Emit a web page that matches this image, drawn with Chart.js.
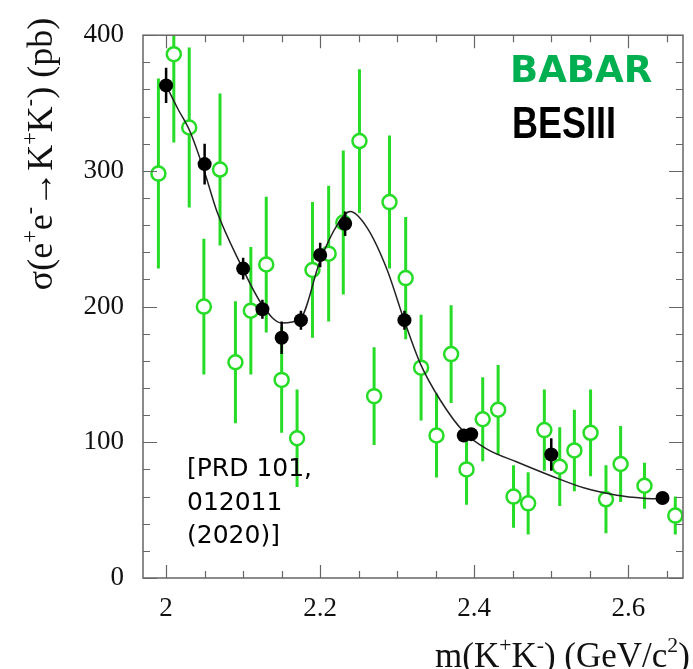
<!DOCTYPE html>
<html>
<head>
<meta charset="utf-8">
<script src="https://cdn.jsdelivr.net/npm/chart.js@4.4.1/dist/chart.umd.min.js"></script>
<style>
  html, body { margin: 0; padding: 0; background: #fff; }
  #c { display: block; }
</style>
</head>
<body>
<canvas id="c" width="693" height="669"></canvas>
<script>
// BABAR (open green circles)
const babX = [1.990, 2.010, 2.030, 2.049, 2.070, 2.090, 2.110, 2.130, 2.150, 2.170, 2.190,
              2.211, 2.230, 2.251, 2.270, 2.290, 2.311, 2.331, 2.351, 2.370, 2.390, 2.411,
              2.431, 2.451, 2.470, 2.491, 2.511, 2.530, 2.551, 2.571, 2.590, 2.621, 2.661];
const babY = [298, 386, 332, 200, 301, 159, 197, 231, 146, 103, 227,
              239, 262, 322, 134, 277, 221, 155, 105, 165, 80, 117,
              124, 60, 55, 109, 82, 94, 107, 58, 84, 68, 46];
const babErr = [70, 65, 59, 50, 56, 45, 47, 50, 39, 36, 50,
                50, 53, 53, 36, 49, 45, 39, 31, 36, 26, 31,
                33, 23, 23, 30, 29, 30, 32, 25, 28, 17, 14];

// BESIII (filled black dots)
const besX = [2.0, 2.05, 2.1, 2.125, 2.15, 2.175, 2.2, 2.2324, 2.3094, 2.3864, 2.396, 2.5, 2.6444];
const besY = [363, 305, 228, 198, 177, 190, 238, 261, 190, 105, 106, 91, 59];
const besErr = [13, 15, 8, 7, 12, 7, 9, 9, 7, 4, 4, 12, 4];

// fit curve
const fitX = [2.0, 2.015, 2.031, 2.05, 2.066, 2.096, 2.125, 2.15, 2.174, 2.2, 2.222, 2.239,
              2.261, 2.287, 2.309, 2.33, 2.356, 2.386, 2.4165, 2.4555, 2.501, 2.542, 2.585, 2.62, 2.646];
const fitY = [363, 346, 329, 299, 270, 232, 201, 188, 191, 234, 260, 270,
              258, 227, 190, 158, 131, 108, 95, 85.5, 75, 66.5, 61, 58.8, 58.3];

const xTicks = [2, 2.2, 2.4, 2.6];
const yTicks = [0, 100, 200, 300, 400];

const GREEN = '#26dc26';

const pts = (xs, ys) => xs.map((x, i) => ({ x: x, y: ys[i] }));

// error bars drawn under each dataset's markers
const errorBars = {
  id: 'errorBars',
  beforeDatasetDraw(chart, args) {
    const ds = chart.data.datasets[args.index];
    if (!ds.errs) return;
    const { ctx, chartArea: a, scales: { x, y } } = chart;
    ctx.save();
    ctx.beginPath();
    ctx.rect(a.left, a.top, a.right - a.left, a.bottom - a.top);
    ctx.clip();
    ctx.strokeStyle = ds.errColor;
    ctx.lineWidth = ds.errWidth;
    ds.data.forEach((p, i) => {
      const px = x.getPixelForValue(p.x);
      ctx.beginPath();
      ctx.moveTo(px, y.getPixelForValue(p.y - ds.errs[i]));
      ctx.lineTo(px, y.getPixelForValue(p.y + ds.errs[i]));
      ctx.stroke();
    });
    ctx.restore();
  }
};

// frame with inward ticks on all four sides
const frame = {
  id: 'frame',
  afterDatasetsDraw(chart) {
    const { ctx, chartArea: a, scales: { x, y } } = chart;
    ctx.save();
    ctx.strokeStyle = '#666';
    ctx.lineWidth = 1.5;
    ctx.strokeRect(a.left, a.top, a.right - a.left, a.bottom - a.top);
    ctx.lineWidth = 1.2;
    ctx.beginPath();
    for (let k = Math.ceil(x.min / 0.05 - 1e-6); k * 0.05 <= x.max + 1e-9; k++) {
      const v = k * 0.05;
      const len = xTicks.some(t => Math.abs(t - v) < 1e-6) ? 13 : 7;
      const px = Math.round(x.getPixelForValue(v)) + 0.5;
      ctx.moveTo(px, a.bottom); ctx.lineTo(px, a.bottom - len);
      ctx.moveTo(px, a.top); ctx.lineTo(px, a.top + len);
    }
    for (let v = 0; v <= 400; v += 20) {
      const len = yTicks.includes(v) ? 14 : 7;
      const py = Math.round(y.getPixelForValue(v)) + 0.5;
      ctx.moveTo(a.left, py); ctx.lineTo(a.left + len, py);
      ctx.moveTo(a.right, py); ctx.lineTo(a.right - len, py);
    }
    ctx.stroke();
    ctx.restore();
  }
};

function drawRich(ctx, parts, size, x, y) {
  let cx = x;
  parts.forEach(p => {
    const s = p.sup ? size * 0.62 : size;
    ctx.font = s + 'px "Liberation Serif", "DejaVu Serif", serif';
    ctx.fillText(p.t, cx, p.sup ? y - size * 0.42 : y);
    cx += ctx.measureText(p.t).width;
  });
  return cx - x;
}
function richWidth(ctx, parts, size) {
  let w = 0;
  parts.forEach(p => {
    ctx.font = (p.sup ? size * 0.62 : size) + 'px "Liberation Serif", "DejaVu Serif", serif';
    w += ctx.measureText(p.t).width;
  });
  return w;
}

const yTitle = [{ t: 'σ(e' }, { t: '+', sup: true }, { t: 'e' }, { t: '-', sup: true },
                { t: '→K' }, { t: '+', sup: true }, { t: 'K' }, { t: '-', sup: true }, { t: ') (pb)' }];
const xTitle = [{ t: 'm(K' }, { t: '+', sup: true }, { t: 'K' }, { t: '-', sup: true },
                { t: ') (GeV/c' }, { t: '2', sup: true }, { t: ')' }];

const texts = {
  id: 'texts',
  afterDraw(chart) {
    const ctx = chart.ctx;
    ctx.save();
    ctx.fillStyle = '#111';
    ctx.textBaseline = 'alphabetic';
    drawRich(ctx, xTitle, 35, 435, 667);

    ctx.save();
    ctx.translate(52, 154);
    ctx.rotate(-Math.PI / 2);
    const w = richWidth(ctx, yTitle, 36);
    drawRich(ctx, yTitle, 36, -w / 2, 0);
    ctx.restore();

    ctx.font = 'bold 37px "DejaVu Sans", sans-serif';
    ctx.fillStyle = '#00b050';
    ctx.fillText('BABAR', 510, 82);

    // narrow, tall lettering for BESIII
    ctx.save();
    ctx.font = 'bold 45px "Liberation Sans", sans-serif';
    ctx.fillStyle = '#000';
    ctx.translate(512, 138);
    ctx.scale(0.8, 1);
    ctx.fillText('BESIII', 0, 0);
    ctx.restore();

    ctx.font = '25px "DejaVu Sans", sans-serif';
    ctx.fillStyle = '#000';
    ctx.fillText('[PRD 101,', 187, 476);
    ctx.fillText('012011', 187, 510);
    ctx.fillText('(2020)]', 187, 543);
    ctx.restore();
  }
};

new Chart(document.getElementById('c'), {
  type: 'scatter',
  data: {
    datasets: [
      {
        label: 'BABAR', data: pts(babX, babY), order: 3,
        pointRadius: 7, pointHoverRadius: 7, borderWidth: 2.5,
        borderColor: GREEN, backgroundColor: '#fff',
        errs: babErr, errColor: GREEN, errWidth: 3
      },
      {
        label: 'fit', data: pts(fitX, fitY), order: 2, showLine: true,
        pointRadius: 0, borderColor: '#222', borderWidth: 1.5,
        cubicInterpolationMode: 'monotone'
      },
      {
        label: 'BESIII', data: pts(besX, besY), order: 1,
        pointRadius: 7, pointHoverRadius: 7, borderWidth: 0,
        borderColor: '#000', backgroundColor: '#000',
        errs: besErr, errColor: '#000', errWidth: 2.5
      }
    ]
  },
  options: {
    responsive: false,
    animation: false,
    layout: { padding: { top: 17, right: 10, left: 0, bottom: 0 } },
    plugins: { legend: { display: false }, tooltip: { enabled: false } },
    scales: {
      x: {
        type: 'linear', min: 1.97, max: 2.671,
        grid: { display: false, drawTicks: false },
        border: { display: false },
        afterBuildTicks: s => { s.ticks = xTicks.map(v => ({ value: v })); },
        afterFit: s => { s.height = 91; },
        ticks: {
          padding: 15, color: '#111', maxRotation: 0,
          font: { family: '"Liberation Serif", serif', size: 27 },
          callback: v => String(+v.toFixed(1))
        }
      },
      y: {
        type: 'linear', min: 0, max: 400,
        grid: { display: false, drawTicks: false },
        border: { display: false },
        afterBuildTicks: s => { s.ticks = yTicks.map(v => ({ value: v })); },
        afterFit: s => { s.width = 143; },
        ticks: {
          padding: 19, color: '#111',
          font: { family: '"Liberation Serif", serif', size: 27 }
        }
      }
    }
  },
  plugins: [errorBars, frame, texts]
});
</script>
</body>
</html>
